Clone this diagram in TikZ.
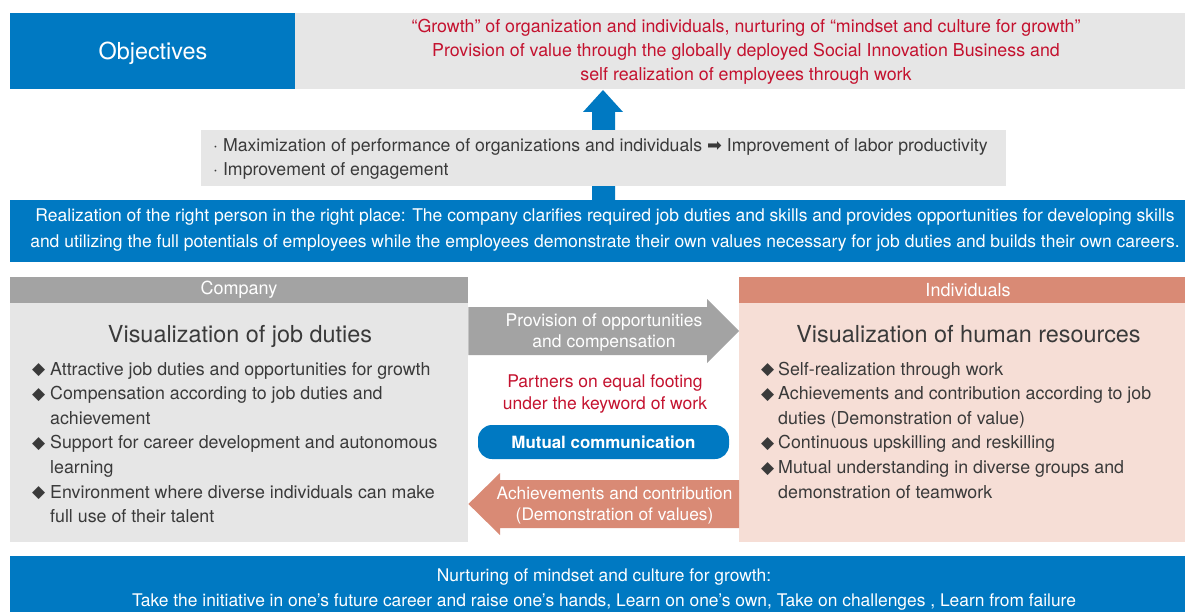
\documentclass[tikz,border=0pt]{standalone}
\usepackage{fontspec}
\setmainfont{TeX Gyre Heros}
\newfontfamily\symfont{DejaVu Sans}
\usetikzlibrary{calc}
\definecolor{blueC}{HTML}{0079C2}
\definecolor{redT}{HTML}{C4122F}
\definecolor{greyHead}{HTML}{A3A3A3}
\definecolor{greyBody}{HTML}{E6E6E6}
\definecolor{salmonC}{HTML}{D98A75}
\definecolor{pinkBody}{HTML}{F6DED6}
\definecolor{textGrey}{HTML}{3A3A3A}
\newcommand{\dia}{\makebox[18pt][l]{\raisebox{0.3pt}{\symfont\fontsize{17}{17}\selectfont ◆}}}
\newcommand{\ind}{\makebox[18pt][l]{}}
\newcommand{\diar}{\makebox[17pt][l]{\raisebox{0.3pt}{\symfont\fontsize{17}{17}\selectfont ◆}}}
\newcommand{\indr}{\makebox[17pt][l]{}}
\tikzset{
  box/.style={rectangle, inner sep=0pt, anchor=north west},
  txt/.style={inner sep=0pt, align=center},
  listtxt/.style={inner sep=0pt, align=left, anchor=base west, text=textGrey, font=\fontsize{17.8}{24.6}\selectfont},
}
\begin{document}
\begin{tikzpicture}[x=1pt,y=-1pt]
\useasboundingbox (0,0) rectangle (1185,612);
% objectives row
\node[box, fill=blueC, minimum width=285pt, minimum height=76pt] (obj) at (10,13) {};
\node[txt, anchor=base, text=white, font=\fontsize{23.4}{23.4}\selectfont] (objt) at (153,60) {Objectives};
\node[box, fill=greyBody, minimum width=890pt, minimum height=76pt] (goal) at (295,13) {};
\node[txt, anchor=base, text=redT, font=\fontsize{17.8}{24}\selectfont] (goalt) at (746,81)
  {“Growth” of organization and individuals, nurturing of “mindset and culture for growth”\\
   Provision of value through the globally deployed Social Innovation Business and\\
   self realization of employees through work};
% up arrow
\coordinate (atip) at (603,90);
\fill[blueC] (592,200) -- (592,112) -- (583,112) -- (atip) -- (623,112) -- (615,112) -- (615,200) -- cycle;
% effects box
\node[box, fill=greyBody, minimum width=805pt, minimum height=56pt] (eff) at (201,130) {};
\node[inner sep=0pt, align=left, anchor=base west, text=textGrey, font=\fontsize{17.7}{24}\selectfont] (efft) at (213,175.7)
  {· Maximization of performance of organizations and individuals {\symfont ➡} Improvement of labor productivity\\
   · Improvement of engagement};
% realization band
\node[box, fill=blueC, minimum width=1175pt, minimum height=62pt] (real) at (10,200) {};
\node[txt, anchor=base, text=white, font=\fontsize{17.5}{26}\selectfont] (realt) at (605,247.7)
  {Realization of the right person in the right place: The company clarifies required job duties and skills and provides opportunities for developing skills\\
   and utilizing the full potentials of employees while the employees demonstrate their own values necessary for job duties and builds their own careers.};
% company
\node[box, fill=greyHead, minimum width=458pt, minimum height=26pt] (comph) at (10,277) {};
\node[txt, text=white, font=\fontsize{18}{18}\selectfont] (compht) at (239,290) {Company};
\node[box, fill=greyBody, minimum width=458pt, minimum height=239pt] (compb) at (10,303) {};
\node[txt, anchor=base, text=textGrey, font=\fontsize{23.4}{23.4}\selectfont] (compt) at (240,342) {Visualization of job duties};
\node[listtxt] (compl) at (32,522.6)
  {\dia Attractive job duties and opportunities for growth\\
   \dia Compensation according to job duties and\\
   \ind achievement\\
   \dia Support for career development and autonomous\\
   \ind learning\\
   \dia Environment where diverse individuals can make\\
   \ind full use of their talent};
% individuals
\node[box, fill=salmonC, minimum width=446pt, minimum height=26pt] (indh) at (739,277) {};
\node[txt, text=white, font=\fontsize{18}{18}\selectfont] (indht) at (968,290) {Individuals};
\node[box, fill=pinkBody, minimum width=446pt, minimum height=239pt] (indb) at (739,303) {};
\node[txt, anchor=base, text=textGrey, font=\fontsize{23.4}{23.4}\selectfont] (indt) at (968.5,342) {Visualization of human resources};
\node[listtxt] (indl) at (761,498)
  {\diar Self-realization through work\\
   \diar Achievements and contribution according to job\\
   \indr duties (Demonstration of value)\\
   \diar Continuous upskilling and reskilling\\
   \diar Mutual understanding in diverse groups and\\
   \indr demonstration of teamwork};
% right arrow (company -> individuals)
\fill[greyHead] (compb.north east |- 0,307) -- (707,307) -- (707,299) -- (indb.west |- 0,331) -- (707,363) -- (707,355) -- (compb.north east |- 0,355) -- cycle;
\node[txt, anchor=base, text=white, font=\fontsize{17.5}{21}\selectfont] (provt) at (604,347.7)
  {Provision of opportunities\\ and compensation};
% left arrow (individuals -> company)
\fill[salmonC] (indb.north west |- 0,480) -- (500,480) -- (500,473) -- (compb.east |- 0,504) -- (500,535) -- (500,528) -- (indb.north west |- 0,528) -- cycle;
\node[txt, anchor=base, text=white, font=\fontsize{17.3}{21.5}\selectfont] (achvt) at (614.5,520.5)
  {Achievements and contribution\\ (Demonstration of values)};
% partners
\node[txt, anchor=base, text=redT, font=\fontsize{17.5}{21.5}\selectfont] (partt) at (605,409)
  {Partners on equal footing\\ under the keyword of work};
\node[rectangle, rounded corners=14pt, fill=blueC, minimum width=251pt, minimum height=34pt, inner sep=0pt,
  text=white, font=\bfseries\fontsize{16.9}{16.9}\selectfont] (mutual) at (603.5,442) {Mutual communication};
% bottom band
\node[box, fill=blueC, minimum width=1175pt, minimum height=56pt] (nurt) at (10,556) {};
\node[txt, anchor=base, text=white, font=\fontsize{17.4}{25}\selectfont] (nurtt) at (604,606.7)
  {Nurturing of mindset and culture for growth:\\
   Take the initiative in one’s future career and raise one’s hands, Learn on one’s own, Take on challenges , Learn from failure};
\end{tikzpicture}
\end{document}
